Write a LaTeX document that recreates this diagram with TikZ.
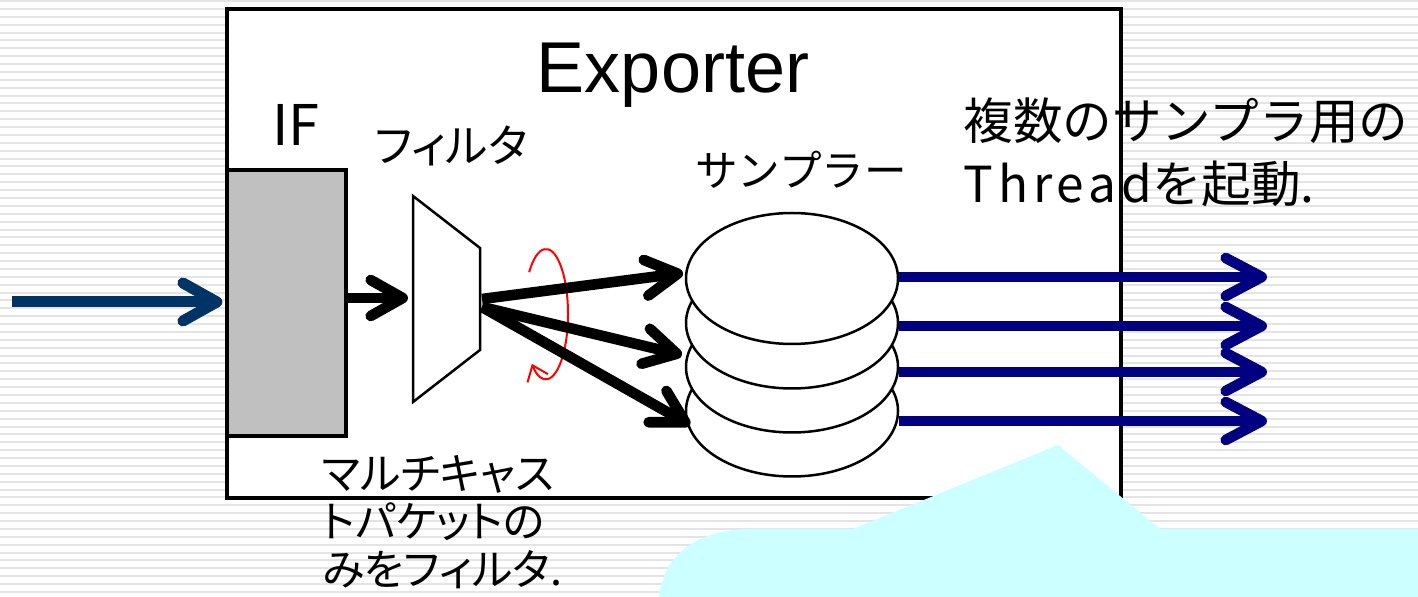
\documentclass[tikz,border=0pt]{standalone}
\usepackage{fontspec}
\setmainfont{Noto Sans CJK JP}[RawFeature=+palt]
\newfontfamily\jpfull{Noto Sans CJK JP}
\newfontfamily\latinfont{Liberation Sans}
\usetikzlibrary{arrows.meta,shapes.geometric}
\definecolor{stripegray}{HTML}{E4E4E4}
\definecolor{ifgray}{HTML}{C0C0C0}
\definecolor{inblue}{HTML}{003366}
\definecolor{outblue}{HTML}{000080}
\definecolor{calloutcyan}{HTML}{CCFFFF}
\begin{document}
\begin{tikzpicture}[x=0.5pt,y=-0.5pt]
    \tikzstyle{if box}=[draw, line width=1.6pt, fill=ifgray, minimum width=59.5pt, minimum height=133pt, inner sep=0pt];
    \tikzstyle{sampler}=[ellipse, draw, line width=1.25pt, fill=white, minimum width=106pt, minimum height=65.5pt, inner sep=0pt];
    \tikzstyle{flow arrow}=[line width=5.3pt, -{Straight Barb[length=16pt,width=18pt,round]}];
    \tikzstyle{thread arrow}=[outblue, line width=5.3pt, -{Straight Barb[length=18pt,width=19pt,round]}];
    \tikzstyle{input arrow}=[inblue, line width=5.5pt, -{Straight Barb[length=17pt,width=19pt,round]}];
    \tikzstyle{jp text}=[inner sep=0pt, anchor=base west];

    \useasboundingbox (0,0) rectangle (1418,597);
    \fill[white] (0,0) rectangle (1418,597);
    \foreach \y in {1,8.88,...,597} \draw[stripegray, line width=1pt] (0,\y) -- (1418,\y);

    % exporter box
    \node[draw, line width=1.6pt, fill=white, minimum width=447pt, minimum height=244.5pt, inner sep=0pt] (exporter) at (674,253.5) {};
    \node[font=\latinfont\fontsize{36}{40}\selectfont, anchor=base, inner sep=0pt] (exporter label) at (673,93) {Exporter};

    \node[if box] (if) at (286.5,303) {};
    \node[font=\fontsize{28}{32}\selectfont, inner sep=0pt] (if label) at (296,125) {IF};
    \node[font=\fontsize{22.5}{27}\selectfont, inner sep=0pt] (filter label) at (451,146) {フィルタ};
    \node[font=\jpfull\fontsize{21.3}{26}\selectfont, inner sep=0pt] (sampler label) at (801,170) {サンプラー};

    % filter
    \draw[line width=1.25pt, fill=white] (413,196) -- (480,248) -- (480,350) -- (413,402) -- cycle;
    \coordinate (filter in) at (412,298);
    \coordinate (filter out) at (482,299);
    \coordinate (filter out low) at (482,307);

    % samplers
    \node[sampler] (s4) at (792,411) {};
    \node[sampler] (s3) at (792,367) {};
    \node[sampler] (s2) at (792,323) {};
    \node[sampler] (s1) at (792,278.5) {};

    \draw[red, line width=1pt, -{Straight Barb[length=7pt,width=11pt]}] (546,314) ++(-140:22 and 65) arc[start angle=-140, end angle=130, x radius=22, y radius=65];

    \coordinate (in) at (12,302);
    \coordinate (tip a) at (683,273);
    \coordinate (tip b) at (682,355);
    \coordinate (tip c) at (690,425);
    \coordinate (out a) at (1267,277);
    \coordinate (out b) at (1267,326);
    \coordinate (out c) at (1267,372);
    \coordinate (out d) at (1267,421);

    \draw[input arrow, shorten >=1.5pt] (in) -- (in -| if.west);
    \draw[flow arrow, shorten >=2pt] (if.east |- filter in) -- (filter in);
    \draw[flow arrow] (filter out) -- (tip a);
    \draw[flow arrow] (filter out low) -- (tip b);
    \draw[flow arrow] (filter out low) -- (tip c);

    \draw[thread arrow] (s1.east |- out a) -- (out a);
    \draw[thread arrow] (s2.east |- out b) -- (out b);
    \draw[thread arrow] (s3.east |- out c) -- (out c);
    \draw[thread arrow] (s4.east |- out d) -- (out d);

    \node[jp text, font=\jpfull\fontsize{24.8}{30}\selectfont] (note a) at (963,140) {複数のサンプラ用の};
    \node[jp text, font=\jpfull\fontsize{24.8}{30}\selectfont] (note b) at (963,203) {{\addfontfeature{LetterSpace=10}Thread}を起動.};

    \node[jp text, font=\fontsize{21.5}{24}\selectfont] (mc a) at (322,490) {マルチキャス};
    \node[jp text, font=\fontsize{21.5}{24}\selectfont] (mc b) at (322,538) {トパケットの};
    \node[jp text, font=\fontsize{21.5}{24}\selectfont] (mc c) at (322,586) {みをフィルタ.};

    % callout
    \fill[calloutcyan] (1418,529) -- (1160,529) -- (1058,445) -- (853,529) -- (752,529) .. controls (700,529) and (664,552) .. (659,597) -- (1418,597) -- cycle;
\end{tikzpicture}
\end{document}
